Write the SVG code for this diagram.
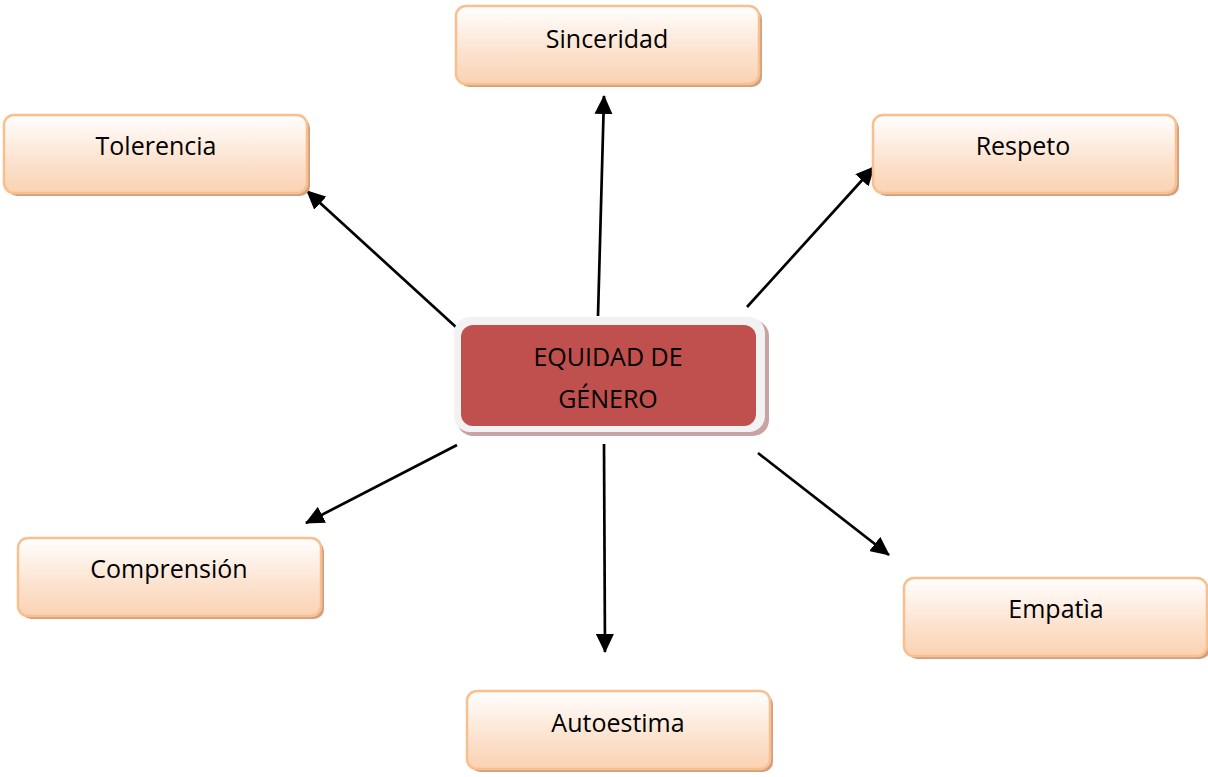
<svg xmlns="http://www.w3.org/2000/svg" width="1208" height="777" viewBox="0 0 1208 777">
<style>
.box{fill:url(#og);stroke:#F9BF8F;stroke-width:2.5}
.shadow{fill:#CFA07F}
.lbl{font-family:"Open Sans","Liberation Sans",sans-serif;font-size:25px;fill:#000;text-anchor:middle}
.conn{stroke:#000;stroke-width:2.7;fill:none;marker-end:url(#ah)}
</style>
<defs>
<linearGradient id="og" x1="0" y1="0" x2="0" y2="1">
<stop offset="0" stop-color="#FFFFFF"/>
<stop offset="0.6" stop-color="#FCE2CE"/>
<stop offset="1" stop-color="#FAD2B2"/>
</linearGradient>
<marker id="ah" markerUnits="userSpaceOnUse" markerWidth="20" markerHeight="18" viewBox="0 0 20 18" refX="18" refY="9" orient="auto">
<path d="M0,0 L19,9 L0,18 Z" fill="#000"/>
</marker>
</defs>
<g id="connectors">
<line class="conn" x1="598" y1="316" x2="604" y2="96"/>
<line class="conn" x1="457" y1="328" x2="307" y2="191"/>
<line class="conn" x1="747" y1="307" x2="874" y2="167"/>
<line class="conn" x1="457" y1="445" x2="306" y2="523"/>
<line class="conn" x1="604" y1="444" x2="605" y2="652"/>
<line class="conn" x1="758" y1="453" x2="889" y2="555"/>
</g>
<g id="center">
<rect x="457" y="320" width="312" height="116" rx="16" fill="#C9A2A4"/>
<rect x="454" y="317" width="311" height="115" rx="16" fill="#F2F2F2"/>
<rect x="461" y="325" width="295" height="101" rx="12" fill="#C0504D"/>
<text class="lbl" x="608" y="366">EQUIDAD DE</text>
<text class="lbl" x="608" y="408">GÉNERO</text>
</g>
<g id="sinceridad">
<rect class="shadow" x="459" y="9" width="303" height="78" rx="10"/>
<rect class="box" x="456" y="6" width="303" height="78" rx="10"/>
<text class="lbl" x="607" y="48">Sinceridad</text>
</g>
<g id="tolerencia">
<rect class="shadow" x="7" y="118" width="303" height="78" rx="10"/>
<rect class="box" x="4" y="115" width="303" height="78" rx="10"/>
<text class="lbl" x="156" y="155">Tolerencia</text>
</g>
<g id="respeto">
<rect class="shadow" x="876" y="118" width="303" height="78" rx="10"/>
<rect class="box" x="873" y="115" width="303" height="78" rx="10"/>
<text class="lbl" x="1023" y="155">Respeto</text>
</g>
<g id="comprension">
<rect class="shadow" x="21" y="541" width="303" height="78" rx="10"/>
<rect class="box" x="18" y="538" width="303" height="78" rx="10"/>
<text class="lbl" x="169" y="578">Comprensión</text>
</g>
<g id="empatia">
<rect class="shadow" x="907" y="581" width="303" height="78" rx="10"/>
<rect class="box" x="904" y="578" width="303" height="78" rx="10"/>
<text class="lbl" x="1056" y="618">Empatìa</text>
</g>
<g id="autoestima">
<rect class="shadow" x="470" y="694" width="303" height="78" rx="10"/>
<rect class="box" x="467" y="691" width="303" height="78" rx="10"/>
<text class="lbl" x="618" y="732">Autoestima</text>
</g>
</svg>
